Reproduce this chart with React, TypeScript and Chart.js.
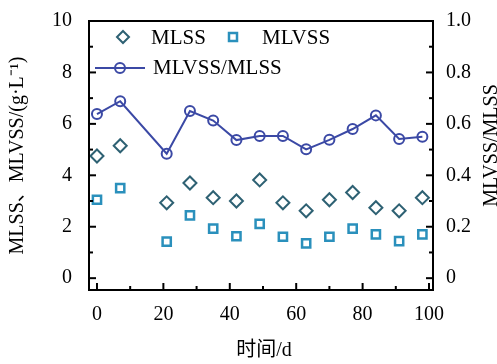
import React, { useEffect, useRef } from 'react';
import { Chart, registerables } from 'chart.js';

Chart.register(...registerables);

// ---- data ----
const days = [0, 7, 21, 28, 35, 42, 49, 56, 63, 70, 77, 84, 91, 98];
const mlss = [4.75, 5.15, 2.93, 3.7, 3.13, 3.0, 3.82, 2.93, 2.62, 3.05, 3.33, 2.74, 2.62, 3.13];
const mlvss = [3.05, 3.5, 1.42, 2.44, 1.93, 1.63, 2.11, 1.61, 1.35, 1.61, 1.93, 1.7, 1.44, 1.7];
const ratio = [0.638, 0.688, 0.484, 0.65, 0.613, 0.537, 0.553, 0.553, 0.501, 0.538, 0.58, 0.633, 0.541, 0.55];
const xTicks = [0, 20, 40, 60, 80, 100];
const yTicks = [0, 2, 4, 6, 8, 10];
const y1Ticks = [0, 0.2, 0.4, 0.6, 0.8, 1.0];
const seriesNames = ['MLSS', 'MLVSS', 'MLVSS/MLSS'];
const xTitle = '时间/d';
const yTitle = 'MLSS、MLVSS/(g·L⁻¹)';
const y1Title = 'MLVSS/MLSS';

const FONT = '"Liberation Serif", "Times New Roman", "Noto Sans CJK SC", serif';
const C_MLSS = '#2e6173';
const C_MLVSS = '#2a90bc';
const C_RATIO = '#3b49a5';

const W = 497;
const H = 364;

function seg2(ctx: any, x1: number, y1: number, x2: number, y2: number) {
  ctx.beginPath();
  ctx.moveTo(x1, y1);
  ctx.lineTo(x2, y2);
  ctx.stroke();
}

const decoPlugin = {
  id: 'deco',
  afterDatasetsDraw(chart: any) {
    const { ctx, chartArea: a, scales } = chart;
    ctx.save();
    ctx.strokeStyle = '#000';
    ctx.lineWidth = 2;
    ctx.strokeRect(a.left, a.top, a.right - a.left, a.bottom - a.top);
    const vert = (scale: any, vals: number[], left: boolean) => {
      const step = vals[1] - vals[0];
      vals.forEach((v, i) => {
        const p = scale.getPixelForValue(v);
        if (left) seg2(ctx, a.left, p, a.left + 7, p);
        else seg2(ctx, a.right, p, a.right - 7, p);
        if (i < vals.length - 1) {
          const q = scale.getPixelForValue(v + step / 2);
          if (left) seg2(ctx, a.left, q, a.left + 4, q);
          else seg2(ctx, a.right, q, a.right - 4, q);
        }
      });
    };
    vert(scales.y, yTicks, true);
    vert(scales.y1, y1Ticks, false);
    const step = xTicks[1] - xTicks[0];
    xTicks.forEach((v, i) => {
      const p = scales.x.getPixelForValue(v);
      seg2(ctx, p, a.bottom, p, a.bottom - 7);
      if (i < xTicks.length - 1) {
        const q = scales.x.getPixelForValue(v + step / 2);
        seg2(ctx, q, a.bottom, q, a.bottom - 4);
      }
    });
    ctx.restore();
  },
  afterDraw(chart: any) {
    const { ctx, chartArea: a } = chart;
    ctx.save();
    ctx.fillStyle = '#000';
    ctx.font = `20px ${FONT}`;
    // x title
    ctx.textAlign = 'center';
    ctx.textBaseline = 'alphabetic';
    ctx.fillText(xTitle, (a.left + a.right) / 2 + 3, 356);
    // left title
    ctx.save();
    ctx.translate(23, (a.top + a.bottom) / 2);
    ctx.rotate(-Math.PI / 2);
    ctx.fillText(yTitle, 0, 0);
    ctx.restore();
    // right title
    ctx.save();
    ctx.translate(497, (a.top + a.bottom) / 2 - 10);
    ctx.rotate(-Math.PI / 2);
    ctx.fillText(y1Title, 0, 0);
    ctx.restore();

    // legend
    ctx.font = `21px ${FONT}`;
    const r1 = a.top + 16;
    const r2 = a.top + 47;
    ctx.textAlign = 'left';
    ctx.textBaseline = 'middle';
    ctx.lineWidth = 2;
    // MLSS diamond
    ctx.strokeStyle = C_MLSS;
    ctx.beginPath();
    const dx = a.left + 34;
    ctx.moveTo(dx, r1 - 6);
    ctx.lineTo(dx + 6, r1);
    ctx.lineTo(dx, r1 + 6);
    ctx.lineTo(dx - 6, r1);
    ctx.closePath();
    ctx.stroke();
    ctx.fillText(seriesNames[0], a.left + 62, r1 + 1);
    // MLVSS square
    ctx.strokeStyle = C_MLVSS;
    ctx.lineWidth = 2.5;
    ctx.strokeRect(a.left + 144 - 4, r1 - 4, 8, 8);
    ctx.fillText(seriesNames[1], a.left + 173, r1 + 1);
    // ratio line
    ctx.strokeStyle = C_RATIO;
    ctx.lineWidth = 2;
    seg2(ctx, a.left + 6, r2, a.left + 56, r2);
    ctx.beginPath();
    ctx.arc(a.left + 31, r2, 5, 0, Math.PI * 2);
    ctx.stroke();
    ctx.fillText(seriesNames[2], a.left + 64, r2);
    ctx.restore();
  },
};

export default function App() {
  const ref = useRef<HTMLCanvasElement | null>(null);
  useEffect(() => {
    if (!ref.current) return;
    const tickFont = { family: FONT, size: 20 };
    const chart = new Chart(ref.current, {
      type: 'scatter',
      data: {
        datasets: [
          {
            label: seriesNames[0],
            data: days.map((d, i) => ({ x: d, y: mlss[i] })),
            yAxisID: 'y',
            showLine: false,
            pointStyle: 'rectRot',
            pointRadius: 6.5,
            borderColor: C_MLSS,
            backgroundColor: 'transparent',
            borderWidth: 2,
          },
          {
            label: seriesNames[1],
            data: days.map((d, i) => ({ x: d, y: mlvss[i] })),
            yAxisID: 'y',
            showLine: false,
            pointStyle: 'rect',
            pointRadius: 5.8,
            borderColor: C_MLVSS,
            backgroundColor: 'transparent',
            borderWidth: 2.5,
          },
          {
            label: seriesNames[2],
            data: days.map((d, i) => ({ x: d, y: ratio[i] })),
            yAxisID: 'y1',
            showLine: true,
            pointStyle: 'circle',
            pointRadius: 5,
            borderColor: C_RATIO,
            backgroundColor: 'transparent',
            pointBackgroundColor: 'transparent',
            borderWidth: 2,
            pointBorderWidth: 2,
          },
        ],
      },
      options: {
        animation: false,
        responsive: false,
        maintainAspectRatio: false,
        layout: { padding: { top: 16, left: 0, right: 0, bottom: 0 } },
        plugins: { legend: { display: false }, tooltip: { enabled: false } },
        scales: {
          x: {
            type: 'linear',
            position: 'bottom',
            min: -2.4,
            max: 101.2,
            grid: { display: false },
            border: { display: false },
            afterBuildTicks: (s: any) => { s.ticks = xTicks.map((v) => ({ value: v })); },
            afterFit: (s: any) => { s.height = 74; },
            ticks: { font: tickFont, color: '#000', padding: 5, maxRotation: 0, autoSkip: false },
          },
          y: {
            type: 'linear',
            position: 'left',
            min: -0.46,
            max: 10,
            grid: { display: false },
            border: { display: false },
            afterBuildTicks: (s: any) => { s.ticks = yTicks.map((v) => ({ value: v })); },
            afterFit: (s: any) => { s.width = 89; },
            ticks: { font: tickFont, color: '#000', padding: 9, autoSkip: false, callback: (v: any) => String(v) },
          },
          y1: {
            type: 'linear',
            position: 'right',
            min: -0.046,
            max: 1.0,
            grid: { display: false },
            border: { display: false },
            afterBuildTicks: (s: any) => { s.ticks = y1Ticks.map((v) => ({ value: v })); },
            afterFit: (s: any) => { s.width = 64; },
            ticks: {
              font: tickFont,
              color: '#000',
              padding: 5,
              autoSkip: false,
              callback: (v: any) => (Number(v) === 0 ? '0' : Number(v).toFixed(1)),
            },
          },
        },
      },
      plugins: [decoPlugin],
    } as any);
    return () => chart.destroy();
  }, []);
  return (
    <div style={{ position: 'fixed', left: 0, top: 0, width: W, height: H, background: '#fff' }}>
      <canvas ref={ref} width={W} height={H} style={{ width: W, height: H, display: 'block' }} />
    </div>
  );
}
